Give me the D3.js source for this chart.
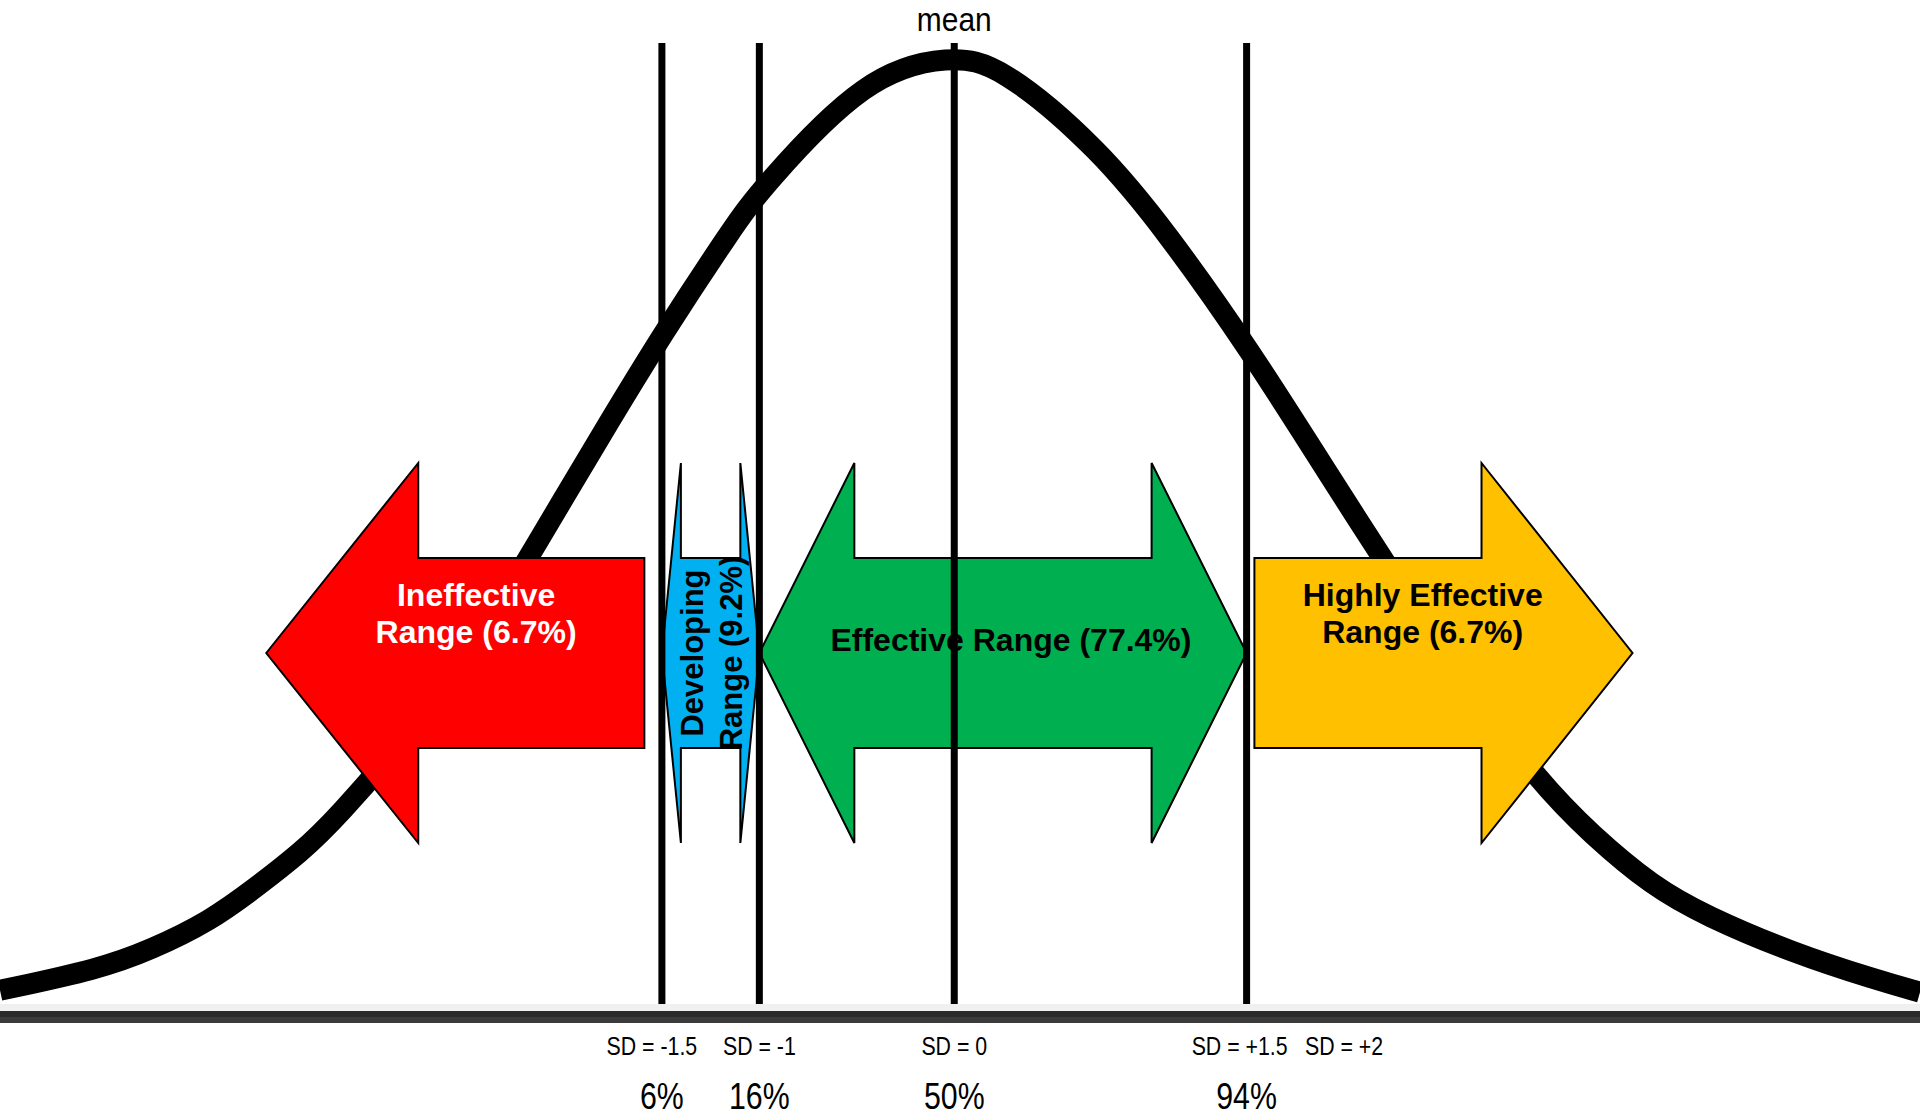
<!DOCTYPE html>
<html>
<head>
<meta charset="utf-8">
<script src="https://cdn.jsdelivr.net/npm/d3@7/dist/d3.min.js"></script>
<style>
  html, body { margin: 0; padding: 0; background: #fff; overflow: hidden; }
  svg { display: block; }
</style>
</head>
<body>
<svg id="chart" width="1920" height="1117"></svg>
<script>
// ---------------- data ----------------
// bell curve: position in SD units, height relative to the peak
const curveSD = [-4.896, -4.383, -4.126, -3.818, -3.577, -3.356, -3.177, -2.741, -2.484, -2.161, -1.817, -1.494, -1.135, -0.997, -0.448, -0.016, 0.235, 0.748, 1.092, 1.508, 1.944, 2.170, 2.595, 3.005, 3.272, 3.585, 3.852, 4.303, 4.734, 4.955];
const curveHeight = [0.005, 0.028, 0.048, 0.079, 0.116, 0.152, 0.187, 0.292, 0.364, 0.476, 0.597, 0.708, 0.821, 0.861, 0.985, 1.005, 0.995, 0.904, 0.815, 0.693, 0.549, 0.476, 0.339, 0.227, 0.171, 0.116, 0.085, 0.045, 0.016, 0.003];

// vertical cut lines and their labels
const lineSD = [-1.5, -1, 0, 1.5];
const sdTickValues = [-1.5, -1, 0, 1.5, 2];
const sdTickLabels = ["SD = -1.5", "SD = -1", "SD = 0", "SD = +1.5", "SD = +2"];
const pctValues = [-1.5, -1, 0, 1.5];
const pctLabels = ["6%", "16%", "50%", "94%"];
const meanLabel = "mean";

// performance ranges (arrows), in SD units: start = flat end / left tip, end = pointed end
const rangeNames = ["Ineffective", "Developing", "Effective", "Highly Effective"];
const rangeLabelLines = [["Ineffective", "Range (6.7%)"], ["Developing", "Range (9.2%)"], ["Effective Range (77.4%)"], ["Highly Effective", "Range (6.7%)"]];
const rangeStart = [-1.59, -1.5, -1.0, 1.54];
const rangeEnd = [-3.53, -1.0, 1.5, 3.48];
const rangeKind = ["left", "both", "both", "right"];
const rangeColors = ["#FF0000", "#00B0F0", "#00B050", "#FFC000"];
const rangeTextColors = ["#FFFFFF", "#000000", "#000000", "#000000"];

// ---------------- layout ----------------
const W = 1920, H = 1117;
const svg = d3.select("#chart");
const x = d3.scaleLinear().domain([-4.896, 4.955]).range([0, W]);
const y = d3.scaleLinear().domain([0, 1]).range([995, 60]);

const arrowMidY = 653, headHalf = 190, bodyHalf = 95;
const headLen = [152, 19, 95, 151];

// ---------------- baseline ----------------
svg.append("rect").attr("x", 0).attr("y", 1004).attr("width", W).attr("height", 7).attr("fill", "#f0f0f0");
svg.append("rect").attr("x", 0).attr("y", 1011).attr("width", W).attr("height", 6).attr("fill", "#2a2a2a");
svg.append("rect").attr("x", 0).attr("y", 1017).attr("width", W).attr("height", 6).attr("fill", "#3b3b3b");

// ---------------- bell curve ----------------
const curvePts = curveSD.map((s, i) => [s, curveHeight[i]]);
const line = d3.line().x(d => x(d[0])).y(d => y(d[1])).curve(d3.curveBasis);
svg.append("path")
  .attr("d", line(curvePts))
  .attr("fill", "none")
  .attr("stroke", "#000")
  .attr("stroke-width", 21)
  .attr("stroke-linejoin", "round");

// ---------------- arrows ----------------
function arrowPath(i) {
  const a = x(rangeStart[i]), b = x(rangeEnd[i]);
  const h = headLen[i];
  const cy = arrowMidY, ht = cy - headHalf, hb = cy + headHalf, bt = cy - bodyHalf, bb = cy + bodyHalf;
  let p;
  if (rangeKind[i] === "left") {
    p = [[b, cy], [b + h, ht], [b + h, bt], [a, bt], [a, bb], [b + h, bb], [b + h, hb]];
  } else if (rangeKind[i] === "right") {
    p = [[a, bt], [b - h, bt], [b - h, ht], [b, cy], [b - h, hb], [b - h, bb], [a, bb]];
  } else {
    p = [[a, cy], [a + h, ht], [a + h, bt], [b - h, bt], [b - h, ht], [b, cy], [b - h, hb], [b - h, bb], [a + h, bb], [a + h, hb]];
  }
  return "M" + p.map(q => q.join(",")).join("L") + "Z";
}

const arrows = svg.append("g");
rangeNames.forEach((n, i) => {
  arrows.append("path")
    .attr("d", arrowPath(i))
    .attr("fill", rangeColors[i])
    .attr("stroke", "#000")
    .attr("stroke-width", 2)
    .attr("stroke-linejoin", "miter");
});

// arrow labels
const boldFont = "'Liberation Sans', Arial, sans-serif";
rangeNames.forEach((n, i) => {
  const lines = rangeLabelLines[i];
  const a = x(rangeStart[i]), b = x(rangeEnd[i]);
  const g = arrows.append("g");
  if (rangeKind[i] === "both" && lines.length === 2) {
    const cx = (a + b) / 2;
    const t = g.append("text")
      .attr("transform", `translate(${cx},${arrowMidY}) rotate(-90)`)
      .attr("text-anchor", "middle")
      .attr("font-family", boldFont).attr("font-weight", "bold").attr("font-size", 31)
      .attr("fill", rangeTextColors[i]);
    t.append("tspan").attr("x", 0).attr("y", -8).text(lines[0]);
    t.append("tspan").attr("x", 0).attr("y", 31).text(lines[1]);
  } else if (lines.length === 1) {
    g.append("text")
      .attr("x", (a + b) / 2 + 8).attr("y", 651)
      .attr("text-anchor", "middle")
      .attr("font-family", boldFont).attr("font-weight", "bold").attr("font-size", 32)
      .attr("fill", rangeTextColors[i])
      .text(lines[0]);
  } else {
    const cx = b + 0.555 * (a - b);
    lines.forEach((l, k) => {
      g.append("text")
        .attr("x", cx).attr("y", 606 + k * 37)
        .attr("text-anchor", "middle")
        .attr("font-family", boldFont).attr("font-weight", "bold").attr("font-size", 32)
        .attr("fill", rangeTextColors[i])
        .text(l);
    });
  }
});

// ---------------- vertical lines ----------------
svg.append("g").selectAll("line").data(lineSD).join("line")
  .attr("x1", d => x(d)).attr("x2", d => x(d))
  .attr("y1", 43).attr("y2", 1004)
  .attr("stroke", "#000").attr("stroke-width", 7);

// ---------------- narrow labels (horizontally condensed) ----------------
const narrowFamily = "'Liberation Sans', Arial, sans-serif";
function narrowText(g, px, py, size, txt, sx) {
  g.append("text")
    .attr("transform", `translate(${px},${py}) scale(${sx},1)`)
    .attr("text-anchor", "middle")
    .attr("font-family", narrowFamily)
    .attr("font-size", size)
    .attr("fill", "#000")
    .text(txt);
}

const labels = svg.append("g");
narrowText(labels, x(0), 31, 34, meanLabel, 0.88);
sdTickValues.forEach((v, i) => narrowText(labels, x(v) - (v === -1.5 ? 10 : v === 1.5 ? 7 : 0), 1055, 26, sdTickLabels[i], 0.82));
pctValues.forEach((v, i) => narrowText(labels, x(v), 1109, 37, pctLabels[i], 0.82));
</script>
</body>
</html>
